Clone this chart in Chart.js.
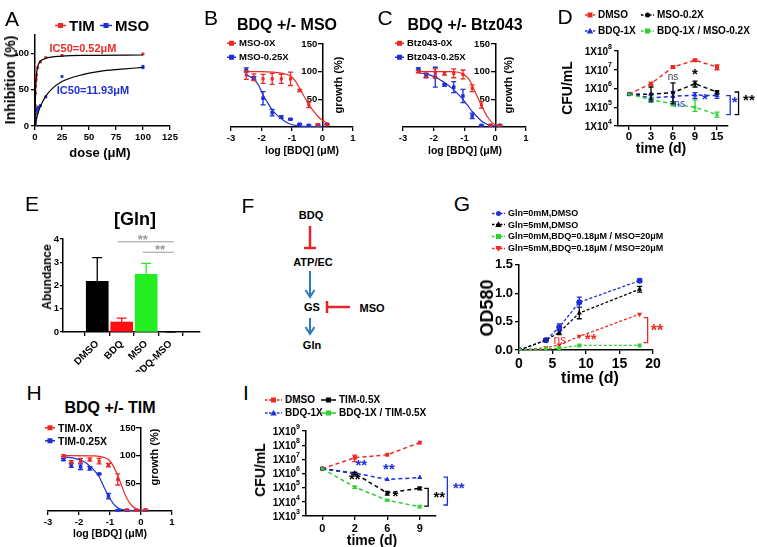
<!DOCTYPE html>
<html>
<head>
<meta charset="utf-8">
<script src="https://cdn.jsdelivr.net/npm/chart.js@4.4.0/dist/chart.umd.min.js"></script>
<style>
html, body { margin: 0; padding: 0; background: #fff; }
#fig { position: relative; width: 757px; height: 547px; overflow: hidden; font-family: "Liberation Sans", Arial, sans-serif; }
#fig canvas { position: absolute; }
.t { position: absolute; white-space: nowrap; font-weight: bold; line-height: 1; transform: translate(-50%, -50%); }
.t.rot { transform: translate(-50%, -50%) rotate(-90deg); }
.t.letter { font-weight: normal; }
.lg { position: absolute; white-space: nowrap; font-weight: bold; line-height: 1; display: flex; align-items: center; transform: translateY(-50%); }
.lg svg { display: block; }
</style>
</head>
<body>
<div id="fig">
<svg id="diagF" width="757" height="547" style="position:absolute;left:0;top:0">
  <g font-family="Liberation Sans, Arial, sans-serif" font-weight="bold" font-size="11" text-anchor="middle" dominant-baseline="central">
    <text x="311" y="215">BDQ</text>
    <text x="313" y="262">ATP/EC</text>
    <text x="312" y="307">GS</text>
    <text x="372" y="308">MSO</text>
    <text x="312" y="345">Gln</text>
  </g>
  <g stroke="#e3262b" stroke-width="2.5" fill="none">
    <line x1="310" y1="226" x2="310" y2="248"/>
    <line x1="304" y1="248" x2="316" y2="248"/>
    <line x1="350" y1="307" x2="327" y2="307"/>
    <line x1="327" y1="301" x2="327" y2="313"/>
  </g>
  <g stroke="#2f77bd" stroke-width="2" fill="none">
    <line x1="310" y1="271" x2="310" y2="296"/>
    <polyline points="305.5,290 310,297 314.5,290"/>
    <line x1="310" y1="318" x2="310" y2="333"/>
    <polyline points="305.5,327 310,334 314.5,327"/>
  </g>
</svg>
</div>
<script>
// ================= data =================
// A - enzyme inhibition
const aTimDose = [0, 0.05, 0.1, 0.2, 0.4, 0.6, 0.8, 1, 1.5, 2.5, 5, 10, 25, 100];
const aTimInh  = [0, 8, 18, 28, 45, 55, 62, 65, 70, 80, 88, 94, 97, 99];
const aMsoDose = [0, 0.1, 0.2, 0.5, 1, 1.5, 2, 2.5, 3, 5, 10, 25, 100, 100];
const aMsoInh  = [0, 3, 5, 12, 17, 20, 23, 25, 26, 28, 40, 68, 80, 82];
const aTimFit = [[0, 0], [0.1, 16], [0.25, 32], [0.5, 48], [1, 64], [2, 78], [3, 84], [5, 89], [10, 93], [25, 96], [50, 97], [100, 97.5]];
const aMsoFit = [[0, 0], [1, 7], [2.5, 16], [5, 27], [10, 41], [15, 50], [25, 61], [40, 69], [60, 75], [80, 78], [100, 80.5]];
const aXTicks = [0, 25, 50, 75, 100, 125];
const aYTicks = [0, 50, 100];

// B, C, H - checkerboard growth curves
const logDose = [-2.5, -2.25, -1.95, -1.65, -1.35, -1.05, -0.75, -0.45, -0.15, 0.15];
const logTicks = [-3, -2, -1, 0, 1];
const growthTicks = [50, 100, 150];

const bRed = [94, 90, 87, 87, 87, 87, 66, 40, 4, 4];
const bRedErr = [8, 6, 8, 10, 8, 12, 2, 5, 2, 1];
const bBlue = [103, 88, 52, 26, 18, 14, 5, 3, 3, 5];
const bBlueErr = [4, 3, 12, 6, 2, 1, 1, 1, 1, 1];
const bRedFit = [[-2.5, 100], [-2, 100], [-1.6, 99], [-1.3, 97], [-1.05, 92], [-0.9, 84], [-0.75, 70], [-0.6, 55], [-0.45, 41], [-0.3, 29], [-0.15, 19], [0, 12], [0.15, 7]];
const bBlueFit = [[-2.5, 95], [-2.25, 86], [-2.1, 76], [-1.95, 58], [-1.8, 44], [-1.65, 31], [-1.5, 22], [-1.35, 15], [-1.2, 9], [-1.05, 5], [-0.8, 2], [-0.5, 0.5], [0.15, 0]];

const cRed = [100, 95, 97, 97, 97, 95, 70, 40, 3, 3];
const cRedErr = [2, 5, 8, 3, 8, 8, 6, 6, 1, 1];
const cBlue = [105, 93, 90, 76, 72, 56, 20, 3, 3, 3];
const cBlueErr = [2, 4, 18, 2, 10, 12, 5, 1, 1, 1];
const cRedFit = [[-2.5, 100], [-1.5, 100], [-1.2, 99], [-1, 94], [-0.85, 86], [-0.75, 75], [-0.65, 63], [-0.55, 51], [-0.45, 39], [-0.35, 28], [-0.25, 18], [-0.1, 8], [0, 4], [0.15, 2]];
const cBlueFit = [[-2.5, 98], [-2.2, 95], [-1.95, 90], [-1.7, 82], [-1.5, 74], [-1.35, 67], [-1.2, 59], [-1.05, 50], [-0.9, 39], [-0.75, 28], [-0.6, 19], [-0.45, 11], [-0.3, 6], [-0.15, 3], [0.15, 1]];

const hRed = [100, 88, 91, 93, 90, 83, 57, 2, 1, 2];
const hRedErr = [2, 3, 4, 3, 5, 3, 10, 1, 1, 1];
const hBlue = [93, 83, 80, 77, 67, 27, 1, 1, 1, 1];
const hBlueErr = [2, 4, 5, 3, 1, 5, 1, 1, 1, 1];
const hRedFit = [[-2.5, 100], [-1.5, 99.5], [-1.2, 97], [-1.05, 93], [-0.9, 82], [-0.75, 64], [-0.6, 42], [-0.45, 22], [-0.3, 10], [-0.15, 4], [0, 2], [0.15, 1]];
const hBlueFit = [[-2.5, 98], [-2.2, 96], [-1.95, 92], [-1.8, 88], [-1.65, 81], [-1.5, 73], [-1.35, 62], [-1.2, 44], [-1.05, 27], [-0.9, 14], [-0.75, 6], [-0.6, 2.5], [-0.3, 0.5], [0.15, 0]];

// D - CFU, MSO combination
const dDays = ['0', '3', '6', '9', '15'];
const dDmso  = [5e5, 1.8e6, 1.4e7, 3.2e7, 1.4e7];
const dMso   = [5e5, 5e5, 6e5, 1.8e6, 6.5e5];
const dBdq   = [5e5, 3.2e5, 3.8e5, 4.5e5, 4.2e5];
const dCombo = [5e5, 2.5e5, 1.5e5, 1e5, 4e4];
const dDmsoErr  = [null, [1.5e6, 2.1e6], [1.2e7, 1.6e7], [2.8e7, 3.6e7], [1.0e7, 1.8e7]];
const dMsoErr   = [null, [2.5e5, 1.2e6], [1.5e5, 2e6], [1.2e6, 2.5e6], [5e5, 7.5e5]];
const dBdqErr   = [null, [2e5, 4.5e5], [2e5, 7e5], [3e5, 6e5], [3e5, 5.5e5]];
const dComboErr = [null, [1.8e5, 3.2e5], [1.2e5, 1.9e5], [6e4, 2.5e5], [3e4, 5.5e4]];
const dYTicks = [1e4, 1e5, 1e6, 1e7, 1e8];

// E - Gln abundance
const eGroups = ['DMSO', 'BDQ', 'MSO', 'BDQ-MSO'];
const eValues = [2.18, 0.43, 2.48, 0];
const eErrUp  = [1.02, 0.17, 0.47, 0];
const eYTicks = [0, 1, 2, 3, 4];

// G - OD580 growth
const gDays = [0, 4, 6, 9, 18];
const gGln0      = [0, 0.17, 0.40, 0.84, 1.22];
const gGln5      = [0, 0.17, 0.31, 0.65, 1.07];
const gGln0Drug  = [0, 0.02, 0.03, 0.08, 0.08];
const gGln5Drug  = [0, 0.04, 0.09, 0.24, 0.63];
const gGln0Err = [null, 0.02, 0.06, 0.09, 0.03];
const gGln5Err = [null, 0.02, 0.04, 0.10, 0.05];
const gXTicks = [0, 5, 10, 15, 20];
const gYTicks = [0, 0.5, 1, 1.5];

// I - CFU, TIM combination
const iDays = ['0', '2', '6', '9'];
const iDmso  = [2.2e6, 1.3e7, 2.1e7, 1.5e8];
const iTim   = [2.2e6, 1e6, 4.2e4, 9e4];
const iBdq   = [2.2e6, 1.1e6, 3.8e5, 5.2e5];
const iCombo = [2.2e6, 1.1e5, 1.3e4, 4.5e3];
const iDmsoErr  = [null, [7e6, 2e7], null, null];
const iTimErr   = [null, [8e5, 1.2e6], [3e4, 5.5e4], [7e4, 1.1e5]];
const iComboErr = [null, [9e4, 1.3e5], [1.1e4, 1.5e4], [3.8e3, 5.5e3]];
const iYTicks = [1e3, 1e4, 1e5, 1e6, 1e7, 1e8, 1e9];

// ================= helpers =================
const RED = '#ec2a25', BLUE = '#1f2fd8', GREEN = '#2fd12f', BLACK = '#000';
const FONT = '"Liberation Sans", Arial, sans-serif';
const fig = document.getElementById('fig');

Chart.defaults.font.family = FONT;
Chart.defaults.font.weight = 'bold';
Chart.defaults.color = '#000';
Chart.defaults.animation = false;
Chart.defaults.responsive = false;
Chart.defaults.plugins.legend.display = false;
Chart.defaults.plugins.tooltip.enabled = false;

const chartNotes = {};
const powTicks = {};

// error bars: dataset.errors holds +/- numbers or [low, high] pairs
const errorBars = {
    id: 'errorBars',
    afterDatasetsDraw(chart) {
        const ctx = chart.ctx;
        chart.data.datasets.forEach((ds, i) => {
            if (!ds.errors) return;
            const meta = chart.getDatasetMeta(i);
            const ys = chart.scales[meta.yAxisID];
            meta.data.forEach((el, j) => {
                const e = ds.errors[j];
                if (e == null) return;
                const raw = ds.data[j];
                const v = typeof raw === 'object' ? raw.y : raw;
                const lo = ds.upOnly ? v : (Array.isArray(e) ? e[0] : v - e);
                const hi = Array.isArray(e) ? e[1] : v + e;
                const x = el.x, y1 = ys.getPixelForValue(lo), y2 = ys.getPixelForValue(hi);
                const cap = ds.cap || 2.5;
                ctx.save();
                ctx.strokeStyle = Array.isArray(ds.errorColor) ? ds.errorColor[j] : (ds.errorColor || ds.borderColor);
                ctx.lineWidth = 1.3;
                ctx.beginPath();
                ctx.moveTo(x, y1); ctx.lineTo(x, y2);
                ctx.moveTo(x - cap, y2); ctx.lineTo(x + cap, y2);
                if (!ds.upOnly) { ctx.moveTo(x - cap, y1); ctx.lineTo(x + cap, y1); }
                ctx.stroke();
                ctx.restore();
            });
        });
    }
};

// significance marks in data coordinates, plus 1X10^n labels for log axes
const notes = {
    id: 'notes',
    afterDraw(chart) {
        const ctx = chart.ctx;
        const xs = chart.scales.x, ys = chart.scales.y;
        const pw = powTicks[chart.canvas.id];
        if (pw) {
            const xr = chart.chartArea.left - 6;
            pw.ticks.forEach(v => {
                const y = ys.getPixelForValue(v);
                const e = String(Math.round(Math.log10(v)));
                ctx.save();
                ctx.fillStyle = '#000';
                ctx.textAlign = 'right';
                ctx.textBaseline = 'middle';
                ctx.font = 'bold ' + pw.sup + 'px ' + FONT;
                const ew = ctx.measureText(e).width;
                ctx.fillText(e, xr, y - pw.size * 0.42);
                ctx.font = 'bold ' + pw.size + 'px ' + FONT;
                ctx.fillText('1X10', xr - ew, y + 1);
                ctx.restore();
            });
        }
        const items = chartNotes[chart.canvas.id];
        if (!items) return;
        items.forEach(n => {
            ctx.save();
            ctx.strokeStyle = ctx.fillStyle = n.color;
            ctx.lineWidth = 1.3;
            if (n.kind === 'text') {
                ctx.font = (n.weight || 'bold') + ' ' + n.size + 'px ' + FONT;
                ctx.textAlign = 'center';
                ctx.textBaseline = 'middle';
                ctx.fillText(n.text, xs.getPixelForValue(n.x), ys.getPixelForValue(n.y));
            } else if (n.kind === 'bracket') {
                const x = xs.getPixelForValue(n.x);
                const y1 = ys.getPixelForValue(n.y1), y2 = ys.getPixelForValue(n.y2);
                ctx.beginPath();
                ctx.moveTo(x - 4, y1); ctx.lineTo(x, y1); ctx.lineTo(x, y2); ctx.lineTo(x - 4, y2);
                ctx.stroke();
            } else if (n.kind === 'hline') {
                const y = ys.getPixelForValue(n.y);
                ctx.lineWidth = 1;
                ctx.beginPath();
                ctx.moveTo(xs.getPixelForValue(n.x1), y); ctx.lineTo(xs.getPixelForValue(n.x2), y);
                ctx.stroke();
            }
            ctx.restore();
        });
    }
};
Chart.register(errorBars, notes);

// canvas whose chart area lands on plot {l,r,t,b}; m = room kept around it
function frame(id, plot, m) {
    const c = document.createElement('canvas');
    c.id = id;
    c.width = plot.r - plot.l + m.l + m.r;
    c.height = plot.b - plot.t + m.t + m.b;
    c.style.left = (plot.l - m.l) + 'px';
    c.style.top = (plot.t - m.t) + 'px';
    fig.appendChild(c);
    return c;
}

function ax(o) {
    const a = {
        type: o.type || 'linear',
        grid: { drawOnChartArea: false, drawTicks: true, tickLength: o.tl || 4, color: '#000', lineWidth: 1.3 },
        border: { color: '#000', width: 1.5 },
        ticks: { color: '#000', autoSkip: false, font: { size: o.size || 10, weight: 'bold' }, padding: o.pad == null ? 2 : o.pad, maxRotation: o.rot || 0, minRotation: o.rot || 0 }
    };
    if (o.position) a.position = o.position;
    if (o.min != null) a.min = o.min;
    if (o.max != null) a.max = o.max;
    if (o.offset) a.offset = true;
    if (o.hideLabels) a.ticks.display = false;
    if (o.cb) a.ticks.callback = o.cb;
    if (o.ticks) a.afterBuildTicks = s => { s.ticks = o.ticks.map(v => ({ value: v })); };
    if (o.fit != null) a.afterFit = s => { if (s.isHorizontal()) s.height = o.fit; else s.width = o.fit; };
    return a;
}

function txt(s, x, y, size, opt) {
    opt = opt || {};
    const d = document.createElement('div');
    d.className = 't' + (opt.rot ? ' rot' : '') + (opt.letter ? ' letter' : '');
    d.textContent = s;
    d.style.left = x + 'px';
    d.style.top = y + 'px';
    d.style.fontSize = size + 'px';
    if (opt.color) d.style.color = opt.color;
    if (opt.weight) d.style.fontWeight = opt.weight;
    fig.appendChild(d);
}

function legend(x, y, color, marker, dashed, w, text, size) {
    const c = w / 2;
    let mk = '';
    if (marker === 'rect') mk = `<rect x="${c - 2.5}" y="1.5" width="5" height="5" fill="${color}"/>`;
    if (marker === 'circle') mk = `<circle cx="${c}" cy="4" r="2.5" fill="${color}"/>`;
    if (marker === 'tri') mk = `<polygon points="${c},0.8 ${c + 3.2},6.6 ${c - 3.2},6.6" fill="${color}"/>`;
    if (marker === 'triDown') mk = `<polygon points="${c},7.2 ${c + 3.2},1.4 ${c - 3.2},1.4" fill="${color}"/>`;
    const d = document.createElement('div');
    d.className = 'lg';
    d.style.left = x + 'px';
    d.style.top = y + 'px';
    d.style.fontSize = size + 'px';
    d.innerHTML = `<svg width="${w}" height="8"><line x1="0" y1="4" x2="${w}" y2="4" stroke="${color}" stroke-width="1.5"${dashed ? ' stroke-dasharray="2.5,1.5"' : ''}/>${mk}</svg><span style="margin-left:3px">${text}</span>`;
    fig.appendChild(d);
}

const pairs = (xs, ys) => xs.map((x, i) => ({ x: x, y: ys[i] }));
const fitPts = arr => arr.map(p => ({ x: p[0], y: p[1] }));

// ================= A =================
(function () {
    const plot = { l: 35, r: 170, t: 35, b: 126 }, m = { l: 32, r: 12, t: 8, b: 20 };
    const c = frame('chartA', plot, m);
    new Chart(c, {
        type: 'scatter',
        data: {
            datasets: [
                { data: fitPts(aTimFit), showLine: true, borderColor: BLACK, borderWidth: 1.2, pointRadius: 0, cubicInterpolationMode: 'monotone' },
                { data: fitPts(aMsoFit), showLine: true, borderColor: BLACK, borderWidth: 1.2, pointRadius: 0, cubicInterpolationMode: 'monotone' },
                { data: pairs(aTimDose, aTimInh), pointStyle: 'rect', pointRadius: 2, backgroundColor: RED, borderWidth: 0 },
                { data: pairs(aMsoDose, aMsoInh), pointStyle: 'rect', pointRadius: 2, backgroundColor: BLUE, borderWidth: 0 }
            ]
        },
        options: {
            layout: { padding: { left: 0, right: m.r, top: m.t, bottom: 0 } },
            scales: {
                x: ax({ min: 0, max: 125, ticks: aXTicks, size: 9.5, fit: m.b }),
                y: ax({ min: 0, max: 125, ticks: aYTicks, size: 9.5, fit: m.l })
            }
        }
    });
    txt('A', 12, 18, 21, { letter: true });
    legend(55, 25, RED, 'rect', false, 11, 'TIM', 15);
    legend(100, 25, BLUE, 'rect', false, 12, 'MSO', 15);
    txt('Inhibition (%)', 10, 80, 14, { rot: true });
    txt('dose (μM)', 100, 152, 13);
    txt('IC50=0.52μM', 83, 48, 11, { color: RED });
    txt('IC50=11.93μM', 93, 90, 11, { color: BLUE });
})();

// ================= B, C, H =================
function doseChart(id, plot, red, redErr, blue, blueErr, redFit, blueFit) {
    const m = { l: 10, r: 10, t: 8, b: 20 };
    const c = frame(id, plot, m);
    new Chart(c, {
        type: 'scatter',
        data: {
            datasets: [
                { data: fitPts(redFit), showLine: true, borderColor: RED, borderWidth: 1.2, pointRadius: 0, cubicInterpolationMode: 'monotone' },
                { data: fitPts(blueFit), showLine: true, borderColor: BLUE, borderWidth: 1.2, pointRadius: 0, cubicInterpolationMode: 'monotone' },
                { data: pairs(logDose, blue), errors: blueErr, borderColor: BLUE, pointStyle: 'rect', pointRadius: 2.5, backgroundColor: BLUE, borderWidth: 0 },
                { data: pairs(logDose, red), errors: redErr, borderColor: RED, pointStyle: 'rect', pointRadius: 2.2, backgroundColor: RED, borderWidth: 0 }
            ]
        },
        options: {
            layout: { padding: { left: m.l, right: m.r, top: m.t, bottom: 0 } },
            scales: {
                x: ax({ min: -3, max: 1, ticks: logTicks, size: 9.5, fit: m.b }),
                y: ax({ min: 0, max: 150, ticks: growthTicks, size: 9.5, position: { x: 0 }, cb: v => v + '  ' })
            }
        }
    });
}

doseChart('chartB', { l: 231, r: 353, t: 44, b: 127 }, bRed, bRedErr, bBlue, bBlueErr, bRedFit, bBlueFit);
txt('B', 211, 17, 21, { letter: true });
txt('BDQ +/- MSO', 287, 25, 16);
legend(227, 43, RED, 'rect', false, 9, 'MSO-0X', 9.5);
legend(227, 57, BLUE, 'rect', false, 9, 'MSO-0.25X', 9.5);
txt('log [BDQ] (μM)', 302, 150, 10.5);
txt('growth (%)', 338, 85, 11, { rot: true });

doseChart('chartC', { l: 403, r: 526, t: 44, b: 127 }, cRed, cRedErr, cBlue, cBlueErr, cRedFit, cBlueFit);
txt('C', 385, 17, 21, { letter: true });
txt('BDQ +/- Btz043', 465, 25, 16);
legend(395, 43, RED, 'rect', false, 9, 'Btz043-0X', 9.5);
legend(395, 57, BLUE, 'rect', false, 9, 'Btz043-0.25X', 9.5);
txt('log [BDQ] (μM)', 465, 150, 10.5);
txt('growth (%)', 508, 85, 11, { rot: true });

doseChart('chartH', { l: 48, r: 172, t: 428, b: 511 }, hRed, hRedErr, hBlue, hBlueErr, hRedFit, hBlueFit);
txt('H', 34, 392, 21, { letter: true });
txt('BDQ +/- TIM', 110, 408, 16);
legend(45, 428, RED, 'rect', false, 10, 'TIM-0X', 10.5);
legend(45, 441, BLUE, 'rect', false, 10, 'TIM-0.25X', 10.5);
txt('log [BDQ] (μM)', 110, 533, 10.5);
txt('growth (%)', 154, 457, 11, { rot: true });

// ================= D =================
(function () {
    const plot = { l: 618, r: 728, t: 51, b: 126 }, m = { l: 46, r: 29, t: 8, b: 20 };
    chartNotes.chartD = [
        { kind: 'text', text: 'ns', x: 2, y: 4e6, size: 10, weight: 'normal', color: '#444' },
        { kind: 'text', text: '*', x: 3, y: 5.5e6, size: 15, color: BLACK },
        { kind: 'text', text: 'ns', x: 2.3, y: 1.5e5, size: 10, weight: 'normal', color: BLUE },
        { kind: 'text', text: '*', x: 3.45, y: 2.6e5, size: 15, color: BLUE },
        { kind: 'bracket', x: 4.6, y1: 4.2e5, y2: 4e4, color: BLUE },
        { kind: 'text', text: '*', x: 4.8, y: 1.8e5, size: 15, color: BLUE },
        { kind: 'bracket', x: 4.98, y1: 6.5e5, y2: 4e4, color: BLACK },
        { kind: 'text', text: '**', x: 5.45, y: 2.2e5, size: 15, color: BLACK }
    ];
    powTicks.chartD = { ticks: dYTicks, size: 10, sup: 7 };
    const c = frame('chartD', plot, m);
    const line = (data, errs, color, style, r) => ({
        data: data, errors: errs, borderColor: color, backgroundColor: color, borderWidth: 1.5, borderDash: [4, 3],
        pointStyle: style, pointRadius: r, pointBorderWidth: 0
    });
    new Chart(c, {
        type: 'line',
        data: {
            labels: dDays,
            datasets: [
                line(dCombo, dComboErr, GREEN, 'rect', 2),
                line(dBdq, dBdqErr, BLUE, 'triangle', 3),
                line(dMso, dMsoErr, BLACK, 'circle', 2),
                line(dDmso, dDmsoErr, RED, 'rect', 2.8)
            ]
        },
        options: {
            layout: { padding: { left: 0, right: m.r, top: m.t, bottom: 0 } },
            scales: {
                x: ax({ type: 'category', offset: true, size: 11.5, fit: m.b, pad: 0 }),
                y: ax({ type: 'logarithmic', min: 1e4, max: 1e8, ticks: dYTicks, fit: m.l, hideLabels: true })
            }
        }
    });
    txt('D', 565, 16, 21, { letter: true });
    legend(585, 15, RED, 'rect', true, 10, 'DMSO', 10);
    legend(641, 15, BLACK, 'circle', true, 13, 'MSO-0.2X', 10);
    legend(585, 31, BLUE, 'tri', true, 10, 'BDQ-1X', 10);
    legend(641, 31, GREEN, 'rect', true, 13, 'BDQ-1X / MSO-0.2X', 10);
    txt('CFU/mL', 567, 88, 14, { rot: true });
    txt('time (d)', 661, 148, 14);
})();

// ================= E =================
(function () {
    const plot = { l: 63, r: 200, t: 239, b: 332 }, m = { l: 22, r: 8, t: 8, b: 40 };
    chartNotes.chartE = [
        { kind: 'hline', x1: 0.84, x2: 3.13, y: 3.88, color: '#999' },
        { kind: 'text', text: '**', x: 1.86, y: 3.95, size: 13, color: '#999' },
        { kind: 'hline', x1: 1.86, x2: 3.13, y: 3.43, color: '#999' },
        { kind: 'text', text: '**', x: 2.57, y: 3.5, size: 13, color: '#999' }
    ];
    const c = frame('chartE', plot, m);
    new Chart(c, {
        type: 'bar',
        data: {
            datasets: [{
                data: pairs(eGroups.map((g, i) => i), eValues),
                errors: eErrUp, upOnly: true, cap: 5,
                backgroundColor: [BLACK, '#ff1010', '#22ee22', BLACK],
                errorColor: [BLACK, '#ff1010', '#22ee22', BLACK],
                barThickness: 22, borderWidth: 0
            }]
        },
        options: {
            layout: { padding: { left: 0, right: m.r, top: m.t, bottom: 0 } },
            scales: {
                x: ax({ min: -0.7, max: 3.5, ticks: eGroups.map((g, i) => i), size: 10, rot: 45, fit: m.b, cb: v => eGroups[v] }),
                y: ax({ min: 0, max: 4, ticks: eYTicks, size: 9.5, fit: m.l, tl: 3, pad: 1 })
            }
        }
    });
    txt('E', 32, 203, 21, { letter: true });
    txt('[Gln]', 135, 219, 18);
    txt('Abundance', 47, 277, 12, { rot: true });
})();

txt('F', 248, 205, 21, { letter: true });

// ================= G =================
(function () {
    const plot = { l: 519, r: 653, t: 263, b: 350 }, m = { l: 34, r: 40, t: 8, b: 20 };
    chartNotes.chartG = [
        { kind: 'text', text: 'ns', x: 6.1, y: 0.17, size: 12, weight: 'normal', color: RED },
        { kind: 'text', text: '**', x: 10.7, y: 0.17, size: 15, color: RED },
        { kind: 'bracket', x: 19.2, y1: 0.57, y2: 0.13, color: RED },
        { kind: 'text', text: '**', x: 20.6, y: 0.33, size: 16, color: RED }
    ];
    const c = frame('chartG', plot, m);
    const line = (data, errs, color, style, r, rot) => ({
        data: pairs(gDays, data), errors: errs, showLine: true, borderColor: color, backgroundColor: color, borderWidth: 1.3, borderDash: [3, 2],
        pointStyle: style, pointRadius: r, pointBorderWidth: 0, pointRotation: rot || 0
    });
    new Chart(c, {
        type: 'scatter',
        data: {
            datasets: [
                line(gGln0Drug, null, GREEN, 'rect', 2.8),
                line(gGln5Drug, null, RED, 'triangle', 3, 180),
                line(gGln5, gGln5Err, BLACK, 'triangle', 3),
                line(gGln0, gGln0Err, BLUE, 'circle', 3)
            ]
        },
        options: {
            layout: { padding: { left: 0, right: m.r, top: m.t, bottom: 0 } },
            scales: {
                x: ax({ min: 0, max: 20, ticks: gXTicks, size: 14, fit: m.b }),
                y: ax({ min: 0, max: 1.5, ticks: gYTicks, size: 13, fit: m.l, cb: v => v.toFixed(1) })
            }
        }
    });
    txt('G', 462, 203, 21, { letter: true });
    legend(492, 213, BLUE, 'circle', true, 13, 'Gln=0mM,DMSO', 9);
    legend(492, 224.5, BLACK, 'tri', true, 13, 'Gln=5mM,DMSO', 9);
    legend(492, 236, GREEN, 'rect', true, 13, 'Gln=0mM,BDQ=0.18μM / MSO=20μM', 9);
    legend(492, 248, RED, 'triDown', true, 13, 'Gln=5mM,BDQ=0.18μM / MSO=20μM', 9);
    txt('OD580', 487, 308, 18, { rot: true });
    txt('time (d)', 590, 378, 16);
})();

// ================= I =================
(function () {
    const plot = { l: 306, r: 436, t: 431, b: 516 }, m = { l: 46, r: 40, t: 8, b: 20 };
    chartNotes.chartI = [
        { kind: 'text', text: '**', x: 1.2, y: 3.3e6, size: 15, color: BLUE },
        { kind: 'text', text: '**', x: 2.05, y: 1.8e6, size: 15, color: BLUE },
        { kind: 'text', text: '**', x: 1.0, y: 3.5e5, size: 15, color: BLACK },
        { kind: 'text', text: '*', x: 2.25, y: 2.2e4, size: 15, color: BLACK },
        { kind: 'bracket', x: 3.26, y1: 9e4, y2: 5e3, color: BLACK },
        { kind: 'text', text: '**', x: 3.6, y: 1.9e4, size: 15, color: BLACK },
        { kind: 'bracket', x: 3.85, y1: 5.5e5, y2: 6e3, color: BLUE },
        { kind: 'text', text: '**', x: 4.2, y: 8e4, size: 15, color: BLUE }
    ];
    powTicks.chartI = { ticks: iYTicks, size: 10, sup: 7 };
    const c = frame('chartI', plot, m);
    const line = (data, errs, color, style, r) => ({
        data: data, errors: errs, borderColor: color, backgroundColor: color, borderWidth: 1.5, borderDash: [4, 3],
        pointStyle: style, pointRadius: r, pointBorderWidth: 0
    });
    new Chart(c, {
        type: 'line',
        data: {
            labels: iDays,
            datasets: [
                line(iCombo, iComboErr, GREEN, 'rect', 2),
                line(iBdq, null, BLUE, 'triangle', 3),
                line(iTim, iTimErr, BLACK, 'rect', 2.5),
                line(iDmso, iDmsoErr, RED, 'rect', 2.8)
            ]
        },
        options: {
            layout: { padding: { left: 0, right: m.r, top: m.t, bottom: 0 } },
            scales: {
                x: ax({ type: 'category', offset: true, size: 11, fit: m.b }),
                y: ax({ type: 'logarithmic', min: 1e3, max: 1e9, ticks: iYTicks, fit: m.l, hideLabels: true })
            }
        }
    });
    txt('I', 246, 392, 21, { letter: true });
    legend(265, 400, RED, 'rect', true, 17, 'DMSO', 10);
    legend(321, 400, BLACK, 'rect', false, 15, 'TIM-0.5X', 10);
    legend(265, 413, BLUE, 'tri', true, 17, 'BDQ-1X', 10);
    legend(321, 413, GREEN, 'rect', false, 15, 'BDQ-1X / TIM-0.5X', 10);
    txt('CFU/mL', 260, 470, 14, { rot: true });
    txt('time (d)', 372, 540, 14);
})();
</script>
</body>
</html>
